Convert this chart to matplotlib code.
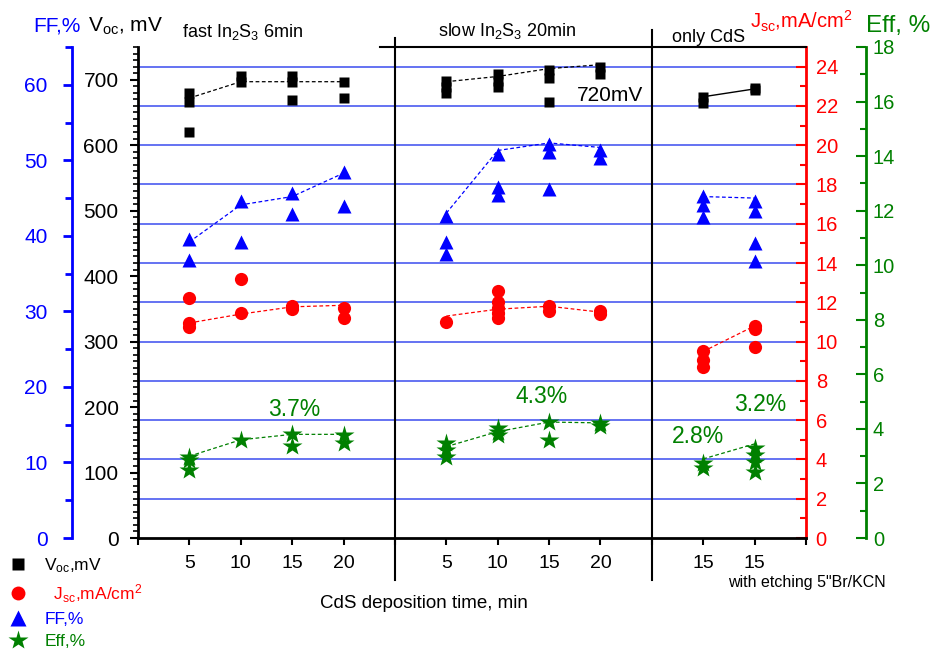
import matplotlib
matplotlib.use("agg")
import matplotlib.pyplot as plt
from matplotlib.lines import Line2D
from matplotlib.ticker import MultipleLocator

plt.rcParams["font.family"] = ["Liberation Sans", "DejaVu Sans"]
plt.rcParams["mathtext.fontset"] = "custom"
plt.rcParams["mathtext.rm"] = "Liberation Sans"
plt.rcParams["mathtext.it"] = "Liberation Sans:italic"
plt.rcParams["mathtext.default"] = "regular"

W, H = 938, 653

# x positions: 1-4 fast In2S3, 6-9 slow In2S3, 11-12 only CdS
tick_pos = list(range(14))
tick_labels = ["", "5", "10", "15", "20", "", "5", "10", "15", "20", "", "15", "15", ""]
group_breaks = [5, 10]

# Voc, mV
voc_x = [1, 1, 1, 2, 2, 3, 3, 3, 4, 4, 6, 6, 6, 7, 7, 7, 8, 8, 8, 9, 9, 11, 11, 12, 12]
voc = [680, 666, 620, 705, 696, 705, 696, 669, 697, 672, 698, 689, 680, 708, 698, 689,
       715, 703, 666, 720, 708, 674, 665, 688, 685]
# FF, %
ff_x = [1, 1, 2, 2, 3, 3, 4, 4, 6, 6, 6, 7, 7, 7, 8, 8, 8, 9, 9, 11, 11, 11, 12, 12, 12, 12]
ff = [39.6, 36.8, 44.6, 39.2, 45.7, 42.9, 48.5, 44.0, 42.6, 39.2, 37.6, 50.9, 46.5, 45.4,
      52.1, 51.1, 46.2, 51.3, 50.3, 45.3, 44.1, 42.5, 44.6, 43.3, 39.1, 36.7]
# Jsc, mA/cm2
jsc_x = [1, 1, 1, 2, 2, 3, 3, 4, 4, 6, 7, 7, 7, 7, 7, 8, 8, 9, 9, 11, 11, 11, 12, 12, 12]
jsc = [12.2, 10.95, 10.75, 13.2, 11.46, 11.8, 11.65, 11.7, 11.2, 11.0, 12.6, 12.0, 11.7,
       11.46, 11.2, 11.8, 11.55, 11.55, 11.4, 9.5, 9.07, 8.7, 10.8, 10.65, 9.7]
# Eff, %
eff_x = [1, 1, 1, 2, 3, 3, 4, 4, 6, 6, 6, 7, 7, 7, 8, 8, 9, 9, 11, 11, 12, 12, 12, 12]
eff = [2.97, 2.86, 2.49, 3.59, 3.81, 3.37, 3.78, 3.48, 3.48, 3.23, 2.97, 4.03, 3.89, 3.78,
       4.25, 3.59, 4.22, 4.1, 2.75, 2.57, 3.3, 3.04, 2.79, 2.42]

# trend lines (best cells) per group
trend_x = [[1, 2, 3, 4], [6, 7, 8, 9], [11, 12]]
voc_trend = [[672, 697, 697, 697], [697, 705, 717, 723], [674, 686]]
ff_trend = [[39.2, 44.1, 45.2, 48.3], [43.0, 51.3, 52.3, 51.7], [45.2, 45.0]]
jsc_trend = [[10.95, 11.4, 11.77, 11.85], [11.3, 11.65, 11.8, 11.5], [9.5, 10.8]]
eff_trend = [[3.0, 3.6, 3.8, 3.8], [3.35, 3.9, 4.25, 4.22], [2.9, 3.45]]

grid_vals = list(range(2, 25, 2))

BLUE, RED, GREEN = "#0000ff", "#ff0000", "#008000"

fig = plt.figure(figsize=(W / 100, H / 100), dpi=100)
ax = fig.add_axes([138 / W, 1 - 538 / H, (806 - 138) / W, (538 - 47) / H])
ax_j = ax.twinx()
ax_ff = ax.twinx()
ax_e = ax.twinx()
ax.patch.set_visible(False)
ax_j.set_zorder(1)
ax.set_zorder(2)
ax_ff.set_zorder(3)
ax_e.set_zorder(4)

# Jsc axis + horizontal grid
for g in grid_vals:
    ax_j.axhline(g, color="#4a5af0", lw=1.2, zorder=0)
ax_j.plot(jsc_x, jsc, "o", color=RED, ms=9.5, mec="none")
for tx, ty in zip(trend_x, jsc_trend):
    ax_j.plot(tx, ty, "--", color=RED, lw=0.9, dashes=(3, 2))
ax_j.set_ylim(0, 25)
ax_j.yaxis.set_major_locator(MultipleLocator(2))
ax_j.yaxis.set_minor_locator(MultipleLocator(1))
ax_j.yaxis.set_major_formatter(lambda v, p: f"{v:.0f}" if v <= 24 else "")
ax_j.tick_params(axis="y", which="major", direction="in", length=7, width=1.5,
                 colors=RED, labelsize=14.5, pad=7)
ax_j.tick_params(axis="y", which="minor", direction="in", length=4.5, width=1.5, colors=RED)
for s in ["left", "top", "bottom"]:
    ax_j.spines[s].set_visible(False)
ax_j.spines["right"].set_color(RED)
ax_j.spines["right"].set_linewidth(2)

# Voc axis (main)
ax.plot(voc_x, voc, "s", color="k", ms=7.8, mec="none")
for i, (tx, ty) in enumerate(zip(trend_x, voc_trend)):
    if i < 2:
        ax.plot(tx, ty, "--", color="k", lw=0.9, dashes=(3, 2))
    else:
        ax.plot(tx, ty, "-", color="k", lw=1.0)
ax.set_xlim(0, 13)
ax.set_ylim(0, 750)
ax.set_yticks(range(0, 701, 100))
ax.yaxis.set_minor_locator(MultipleLocator(10))
ax.tick_params(axis="y", which="major", direction="out", length=6, width=1.5,
               labelsize=15, pad=8)
ax.tick_params(axis="y", which="minor", direction="out", length=3.5, width=1.2)
ax.set_xticks(tick_pos)
ax.set_xticklabels(tick_labels)
ax.tick_params(axis="x", direction="out", length=5, width=1.5, labelsize=14, pad=7)
ax.spines["top"].set_visible(False)
ax.spines["right"].set_visible(False)
ax.spines["left"].set_linewidth(2)
ax.spines["bottom"].set_linewidth(2)

# group dividers and partial top frame
for b, top in zip(group_breaks, [1.018, 1.035]):
    ax.plot([b, b], [top, -0.0855], color="k", lw=1.5,
            transform=ax.get_xaxis_transform(), clip_on=False)
ax.plot([4.7, 13], [1, 1], color="k", lw=1.5,
        transform=ax.get_xaxis_transform(), clip_on=False)

# FF axis (blue, left, offset)
ax_ff.plot(ff_x, ff, "^", color=BLUE, ms=10.5, mec="none")
for tx, ty in zip(trend_x, ff_trend):
    ax_ff.plot(tx, ty, "--", color=BLUE, lw=0.9, dashes=(3, 2))
ax_ff.set_ylim(0, 65)
ax_ff.yaxis.tick_left()
ax_ff.yaxis.set_major_locator(MultipleLocator(10))
ax_ff.yaxis.set_minor_locator(MultipleLocator(5))
ax_ff.tick_params(axis="y", which="major", direction="out", length=6.5, width=2,
                  colors=BLUE, labelsize=15, pad=11)
ax_ff.tick_params(axis="y", which="minor", direction="out", length=5, width=2, colors=BLUE)
for s in ["right", "top", "bottom"]:
    ax_ff.spines[s].set_visible(False)
ax_ff.spines["left"].set_position(("outward", 47.5))
ax_ff.spines["left"].set_color(BLUE)
ax_ff.spines["left"].set_linewidth(2)

# Eff axis (green, right, offset)
ax_e.plot(eff_x, eff, "*", color=GREEN, ms=15, mec="none")
for tx, ty in zip(trend_x, eff_trend):
    ax_e.plot(tx, ty, "--", color=GREEN, lw=0.9, dashes=(3, 2))
ax_e.set_ylim(0, 18)
ax_e.yaxis.set_major_locator(MultipleLocator(2))
ax_e.yaxis.set_minor_locator(MultipleLocator(1))
ax_e.tick_params(axis="y", which="major", direction="in", length=7, width=1.5,
                 colors=GREEN, labelsize=14.5, pad=5)
ax_e.tick_params(axis="y", which="minor", direction="in", length=4.5, width=1.5, colors=GREEN)
for s in ["left", "top", "bottom"]:
    ax_e.spines[s].set_visible(False)
ax_e.spines["right"].set_position(("outward", 43.2))
ax_e.spines["right"].set_color(GREEN)
ax_e.spines["right"].set_linewidth(2)


def ftext(x, y, s, **kw):
    fig.text(x / W, 1 - y / H, s, va="baseline", **kw)


ftext(33, 32, "FF,%", color=BLUE, fontsize=15)
ftext(88, 32, "V$_{oc}$, mV", color="k", fontsize=15)
ftext(182, 37, "fast In$_2$S$_3$ 6min", fontsize=13)
ftext(438, 36, "slow In$_2$S$_3$ 20min", fontsize=13)
ftext(672, 42, "only CdS", fontsize=13)
ftext(750, 28, "J$_{sc}$,mA/cm$^2$", color=RED, fontsize=14.5)
ftext(866, 32, "Eff, %", color=GREEN, fontsize=17.5)
ftext(577, 101, "720mV", fontsize=15)
ftext(268, 416, "3.7%", color=GREEN, fontsize=16.5)
ftext(516, 403, "4.3%", color=GREEN, fontsize=16.5)
ftext(672, 443, "2.8%", color=GREEN, fontsize=16.5)
ftext(734, 411, "3.2%", color=GREEN, fontsize=16.5)
ftext(320, 608, "CdS deposition time, min", fontsize=13.5)
ftext(728, 587, 'with etching 5"Br/KCN', fontsize=11.5)

handles = [
    Line2D([], [], ls="none", marker="s", color="k", ms=8, mec="none"),
    Line2D([], [], ls="none", marker="o", color=RED, ms=10, mec="none"),
    Line2D([], [], ls="none", marker="^", color=BLUE, ms=11.5, mec="none"),
    Line2D([], [], ls="none", marker="*", color=GREEN, ms=15, mec="none"),
]
labels = ["V$_{oc}$,mV", "  J$_{sc}$,mA/cm$^{2}$", "FF,%", "Eff,%"]
leg = fig.legend(handles, labels, loc="upper left", bbox_to_anchor=(8 / W, 1 - 556 / H),
                 frameon=False, fontsize=12.5, handlelength=1.2, handletextpad=0.9,
                 labelspacing=0.42, borderpad=0, borderaxespad=0)
for t, c in zip(leg.get_texts(), ["k", RED, BLUE, GREEN]):
    t.set_color(c)

fig.savefig("out.png", dpi=100, facecolor="white")
